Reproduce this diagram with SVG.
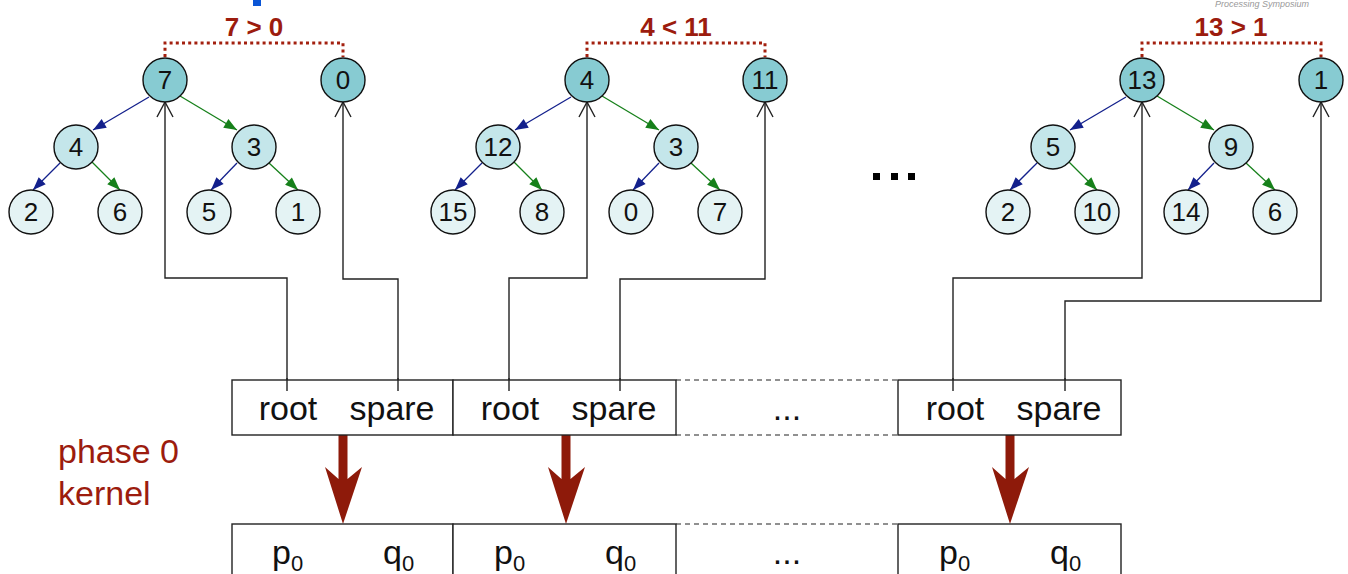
<svg xmlns="http://www.w3.org/2000/svg" xmlns:xlink="http://www.w3.org/1999/xlink" width="1348" height="574" viewBox="0 0 1348 574">
  <style>
    .n circle { stroke: #111; stroke-width: 1.4; }
    .top circle { fill: #87cbd2; }
    .mid circle { fill: #c4e6ea; }
    .leaf circle { fill: #e4f3f4; }
    .n text { font-family: "Liberation Sans", Arial, sans-serif; font-size: 26px; fill: #111; text-anchor: middle; }
    .cmp { font-family: "Liberation Sans", Arial, sans-serif; font-size: 26px; font-weight: bold; fill: #9c1c0e; text-anchor: middle; }
    .dot { fill: none; stroke: #a3200f; stroke-width: 3; stroke-dasharray: 3 3.2; }
    .el { fill: none; stroke: #13208c; stroke-width: 1.3; marker-end: url(#hNavy); }
    .er { fill: none; stroke: #16801a; stroke-width: 1.3; marker-end: url(#hGreen); }
    .wire { fill: none; stroke: #222; stroke-width: 1.4; marker-end: url(#open); }
    .cell { fill: #fff; stroke: #222; stroke-width: 1.4; }
    .gap { fill: none; stroke: #222; stroke-width: 1.2; stroke-dasharray: 5 4; }
    .lbl { font-family: "Liberation Sans", Arial, sans-serif; font-size: 34px; fill: #111; text-anchor: middle; }
    .kern { font-family: "Liberation Sans", Arial, sans-serif; font-size: 34px; fill: #9c1c0e; }
    .big { fill: #8e1a0a; }
  </style>
  <defs>
    <marker id="hNavy" markerUnits="userSpaceOnUse" markerWidth="14" markerHeight="12" refX="13" refY="5" orient="auto" overflow="visible">
      <path d="M0,0 L13,5 L0,10 z" fill="#13208c"/>
    </marker>
    <marker id="hGreen" markerUnits="userSpaceOnUse" markerWidth="14" markerHeight="12" refX="13" refY="5" orient="auto" overflow="visible">
      <path d="M0,0 L13,5 L0,10 z" fill="#16801a"/>
    </marker>
    <marker id="open" markerUnits="userSpaceOnUse" markerWidth="16" markerHeight="18" refX="15" refY="8" orient="auto" overflow="visible">
      <path d="M0,0 L15,8 L0,16" fill="none" stroke="#222" stroke-width="1.4"/>
    </marker>
    <path id="bigArrow" d="M-4.5,0 H4.5 V44 L19,32 L0,89 L-18,32 L-4.5,44 Z"/>
    <!-- edge template of one heap tree, relative to its root centre -->
    <g id="treeEdges">
      <path class="el" d="M-16,17 L-72,50"/>
      <path class="er" d="M15,16 L72,50"/>
      <path class="el" d="M-105,83 L-132,110"/>
      <path class="er" d="M-73,82 L-45,110"/>
      <path class="el" d="M72,83 L46,110"/>
      <path class="er" d="M104,83 L133,110"/>
    </g>
  </defs>

  <rect width="1348" height="574" fill="#fff"/>

  <!-- page header remnants -->
  <rect x="253" y="0" width="8" height="6" fill="#0a55d6"/>
  <text x="1215" y="7" font-family="'Liberation Sans', Arial, sans-serif" font-size="9" font-style="italic" fill="#9a9a9a">Processing Symposium</text>

  <!-- connectors -->
  <g id="connectors">
    <use xlink:href="#treeEdges" x="165" y="80"/>
    <use xlink:href="#treeEdges" x="587" y="80"/>
    <use xlink:href="#treeEdges" x="1142" y="80"/>

    <!-- root / spare comparisons -->
    <path class="dot" d="M165,57 V43 H343 V57"/>
    <path class="dot" d="M587,57 V43 H765 V57"/>
    <path class="dot" d="M1142,57 V43 H1321 V57"/>

    <!-- wires from the record fields up to the tree roots -->
    <path class="wire" d="M287,391 V278 H165 V102"/>
    <path class="wire" d="M398,391 V279 H343 V102"/>
    <path class="wire" d="M509,391 V278 H587 V102"/>
    <path class="wire" d="M620,391 V279 H765 V102"/>
    <path class="wire" d="M953,391 V278 H1142 V102"/>
    <path class="wire" d="M1065,391 V301 H1321 V102"/>

    <!-- kernel arrows -->
    <use xlink:href="#bigArrow" class="big" x="343" y="435"/>
    <use xlink:href="#bigArrow" class="big" x="566" y="435"/>
    <use xlink:href="#bigArrow" class="big" x="1010" y="435"/>
  </g>

  <text class="cmp" x="254" y="36">7 &gt; 0</text>
  <text class="cmp" x="676" y="36">4 &lt; 11</text>
  <text class="cmp" x="1231" y="36">13 &gt; 1</text>

  <!-- tree 1 -->
  <g id="t1-root" class="n top"><circle cx="165" cy="80" r="22"/><text x="165" y="89">7</text></g>
  <g id="t1-spare" class="n top"><circle cx="343" cy="80" r="22"/><text x="343" y="89">0</text></g>
  <g id="t1-l" class="n mid"><circle cx="76" cy="147" r="22"/><text x="76" y="156">4</text></g>
  <g id="t1-r" class="n mid"><circle cx="254" cy="147" r="22"/><text x="254" y="156">3</text></g>
  <g id="t1-ll" class="n leaf"><circle cx="31" cy="212" r="22"/><text x="31" y="221">2</text></g>
  <g id="t1-lr" class="n leaf"><circle cx="120" cy="212" r="22"/><text x="120" y="221">6</text></g>
  <g id="t1-rl" class="n leaf"><circle cx="209" cy="212" r="22"/><text x="209" y="221">5</text></g>
  <g id="t1-rr" class="n leaf"><circle cx="298" cy="212" r="22"/><text x="298" y="221">1</text></g>

  <!-- tree 2 -->
  <g id="t2-root" class="n top"><circle cx="587" cy="80" r="22"/><text x="587" y="89">4</text></g>
  <g id="t2-spare" class="n top"><circle cx="765" cy="80" r="22"/><text x="765" y="89">11</text></g>
  <g id="t2-l" class="n mid"><circle cx="498" cy="147" r="22"/><text x="498" y="156">12</text></g>
  <g id="t2-r" class="n mid"><circle cx="676" cy="147" r="22"/><text x="676" y="156">3</text></g>
  <g id="t2-ll" class="n leaf"><circle cx="453" cy="212" r="22"/><text x="453" y="221">15</text></g>
  <g id="t2-lr" class="n leaf"><circle cx="542" cy="212" r="22"/><text x="542" y="221">8</text></g>
  <g id="t2-rl" class="n leaf"><circle cx="631" cy="212" r="22"/><text x="631" y="221">0</text></g>
  <g id="t2-rr" class="n leaf"><circle cx="720" cy="212" r="22"/><text x="720" y="221">7</text></g>

  <!-- tree 3 -->
  <g id="t3-root" class="n top"><circle cx="1142" cy="80" r="22"/><text x="1142" y="89">13</text></g>
  <g id="t3-spare" class="n top"><circle cx="1321" cy="80" r="22"/><text x="1321" y="89">1</text></g>
  <g id="t3-l" class="n mid"><circle cx="1053" cy="147" r="22"/><text x="1053" y="156">5</text></g>
  <g id="t3-r" class="n mid"><circle cx="1231" cy="147" r="22"/><text x="1231" y="156">9</text></g>
  <g id="t3-ll" class="n leaf"><circle cx="1008" cy="212" r="22"/><text x="1008" y="221">2</text></g>
  <g id="t3-lr" class="n leaf"><circle cx="1097" cy="212" r="22"/><text x="1097" y="221">10</text></g>
  <g id="t3-rl" class="n leaf"><circle cx="1186" cy="212" r="22"/><text x="1186" y="221">14</text></g>
  <g id="t3-rr" class="n leaf"><circle cx="1275" cy="212" r="22"/><text x="1275" y="221">6</text></g>

  <!-- ellipsis between trees -->
  <g id="more" fill="#000">
    <rect x="873" y="173" width="7" height="7"/>
    <rect x="891" y="173" width="7" height="7"/>
    <rect x="908" y="173" width="7" height="7"/>
  </g>

  <!-- input records -->
  <g id="rec-in-1"><rect class="cell" x="232" y="380" width="221" height="55"/></g>
  <g id="rec-in-2"><rect class="cell" x="453" y="380" width="223" height="55"/></g>
  <g id="rec-in-gap"><path class="gap" d="M676,380 H898 M676,435 H898"/></g>
  <g id="rec-in-3"><rect class="cell" x="898" y="380" width="223" height="55"/></g>
  <text class="lbl" x="288" y="420">root</text>
  <text class="lbl" x="392" y="420">spare</text>
  <text class="lbl" x="510" y="420">root</text>
  <text class="lbl" x="614" y="420">spare</text>
  <text class="lbl" x="787" y="420">...</text>
  <text class="lbl" x="955" y="420">root</text>
  <text class="lbl" x="1059" y="420">spare</text>

  <!-- wire ends drawn over the record tops -->
  <g fill="none" stroke="#222" stroke-width="1.4">
    <path d="M287,378 V391 M398,378 V391 M509,378 V391 M620,378 V391 M953,378 V391 M1065,378 V391"/>
  </g>

  <!-- output records -->
  <g id="rec-out-1"><rect class="cell" x="232" y="524" width="221" height="80"/></g>
  <g id="rec-out-2"><rect class="cell" x="453" y="524" width="223" height="80"/></g>
  <g id="rec-out-gap"><path class="gap" d="M676,524 H898"/></g>
  <g id="rec-out-3"><rect class="cell" x="898" y="524" width="223" height="80"/></g>
  <g class="lbl">
    <text x="272" y="564" text-anchor="start">p<tspan font-size="22" dy="7">0</tspan></text>
    <text x="383" y="564" text-anchor="start">q<tspan font-size="22" dy="7">0</tspan></text>
    <text x="494" y="564" text-anchor="start">p<tspan font-size="22" dy="7">0</tspan></text>
    <text x="605" y="564" text-anchor="start">q<tspan font-size="22" dy="7">0</tspan></text>
    <text x="939" y="564" text-anchor="start">p<tspan font-size="22" dy="7">0</tspan></text>
    <text x="1050" y="564" text-anchor="start">q<tspan font-size="22" dy="7">0</tspan></text>
  </g>
  <text class="lbl" x="787" y="564">...</text>

  <text class="kern" x="58" y="463">phase 0</text>
  <text class="kern" x="58" y="505">kernel</text>
</svg>
